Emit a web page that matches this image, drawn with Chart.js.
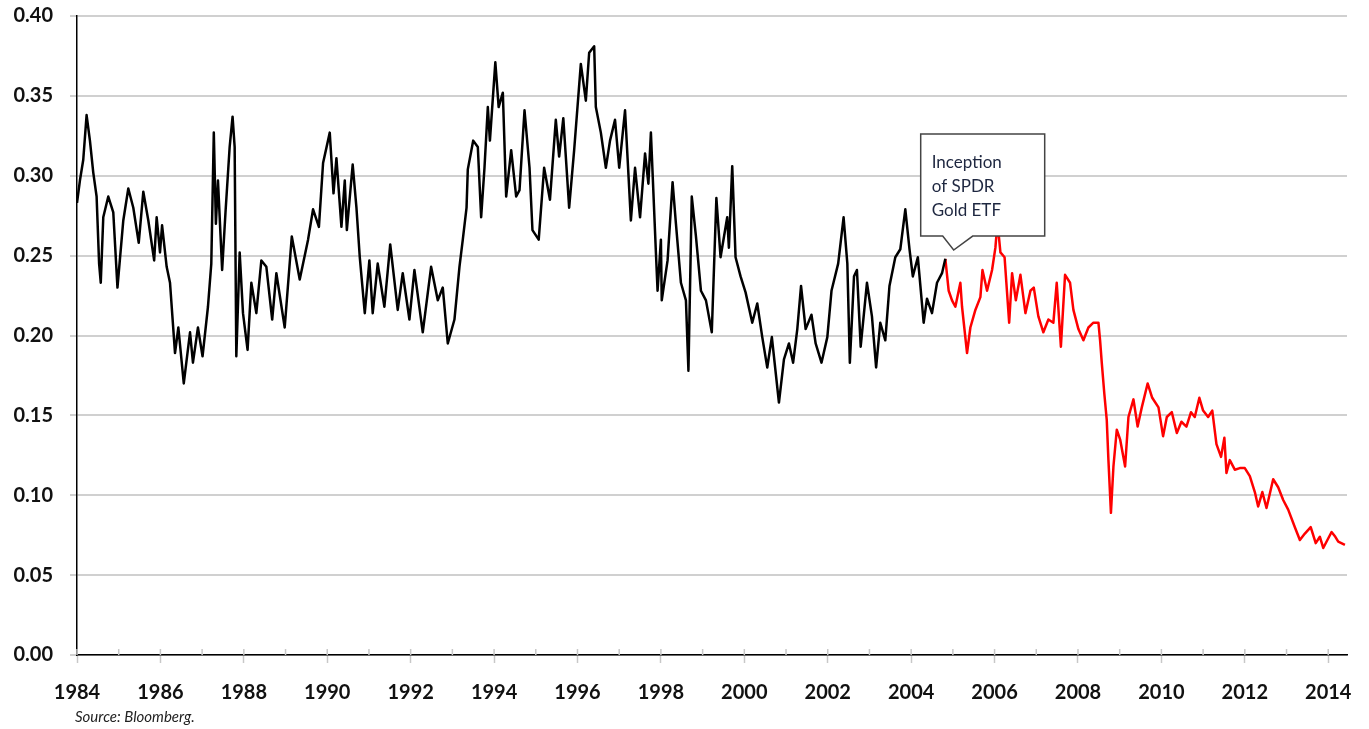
<!DOCTYPE html>
<html>
<head>
<meta charset="utf-8">
<script src="https://cdn.jsdelivr.net/npm/chart.js@4/dist/chart.umd.min.js"></script>
<style>
  html, body { margin: 0; padding: 0; background: #fff; }
  #wrap { position: relative; width: 1369px; height: 729px; }
  #source { position: absolute; left: 75px; top: 707px; font: italic 15px Lato, "Open Sans", sans-serif; color: #222; }
</style>
</head>
<body>
<div id="wrap">
  <canvas id="chart" width="1369" height="729"></canvas>
  <div id="source">Source: Bloomberg.</div>
</div>
<script>
// ratio, decimal years
const blackYears = [
  1984.00, 1984.07, 1984.15, 1984.23, 1984.31, 1984.39, 1984.47, 1984.53, 1984.57, 1984.63,
  1984.75, 1984.87, 1984.97, 1985.11, 1985.23, 1985.35, 1985.48, 1985.59, 1985.71, 1985.85,
  1985.91, 1985.99, 1986.04, 1986.15, 1986.23, 1986.35, 1986.43, 1986.56, 1986.71, 1986.78,
  1986.90, 1987.01, 1987.14, 1987.22, 1987.28, 1987.33, 1987.38, 1987.48, 1987.56, 1987.66,
  1987.73, 1987.78, 1987.82, 1987.90, 1987.98, 1988.09, 1988.18, 1988.30, 1988.42, 1988.54,
  1988.68, 1988.78, 1988.98, 1989.15, 1989.34, 1989.54, 1989.66, 1989.80, 1989.90, 1990.06,
  1990.15, 1990.22, 1990.34, 1990.42, 1990.47, 1990.61, 1990.70, 1990.78, 1990.90, 1991.01,
  1991.09, 1991.21, 1991.37, 1991.51, 1991.69, 1991.81, 1991.97, 1992.09, 1992.29, 1992.49,
  1992.65, 1992.77, 1992.89, 1993.05, 1993.17, 1993.25, 1993.34, 1993.37, 1993.50, 1993.61,
  1993.69, 1993.77, 1993.85, 1993.90, 1994.03, 1994.11, 1994.21, 1994.29, 1994.41, 1994.53,
  1994.61, 1994.73, 1994.85, 1994.92, 1995.07, 1995.20, 1995.34, 1995.48, 1995.56, 1995.66,
  1995.80, 1995.92, 1996.08, 1996.20, 1996.28, 1996.40, 1996.44, 1996.56, 1996.68, 1996.78,
  1996.90, 1997.00, 1997.14, 1997.28, 1997.38, 1997.50, 1997.62, 1997.70, 1997.76, 1997.88,
  1997.92, 1998.00, 1998.02, 1998.16, 1998.28, 1998.36, 1998.48, 1998.60, 1998.66, 1998.74,
  1998.84, 1998.96, 1999.08, 1999.22, 1999.33, 1999.43, 1999.59, 1999.63, 1999.71, 1999.79,
  1999.91, 2000.03, 2000.19, 2000.31, 2000.43, 2000.55, 2000.66, 2000.83, 2000.95, 2001.07,
  2001.17, 2001.27, 2001.36, 2001.47, 2001.61, 2001.71, 2001.85, 2001.99, 2002.09, 2002.25,
  2002.38, 2002.47, 2002.53, 2002.63, 2002.70, 2002.79, 2002.94, 2003.06, 2003.16, 2003.26,
  2003.38, 2003.48, 2003.62, 2003.74, 2003.86, 2003.96, 2004.04, 2004.16, 2004.30, 2004.38,
  2004.50, 2004.62, 2004.74, 2004.82
];
const blackValues = [
  0.283, 0.297, 0.310, 0.338, 0.322, 0.302, 0.287, 0.245, 0.233, 0.274,
  0.287, 0.277, 0.230, 0.272, 0.292, 0.280, 0.258, 0.290, 0.272, 0.247,
  0.274, 0.252, 0.269, 0.243, 0.233, 0.189, 0.205, 0.170, 0.202, 0.183,
  0.205, 0.187, 0.218, 0.245, 0.327, 0.270, 0.297, 0.241, 0.277, 0.318,
  0.337, 0.318, 0.187, 0.252, 0.214, 0.191, 0.233, 0.214, 0.247, 0.243,
  0.210, 0.239, 0.205, 0.262, 0.235, 0.260, 0.279, 0.268, 0.308, 0.327,
  0.289, 0.311, 0.268, 0.297, 0.266, 0.307, 0.280, 0.249, 0.214, 0.247,
  0.214, 0.245, 0.218, 0.257, 0.216, 0.239, 0.210, 0.241, 0.202, 0.243,
  0.222, 0.230, 0.195, 0.210, 0.243, 0.260, 0.280, 0.304, 0.322, 0.318,
  0.274, 0.305, 0.343, 0.322, 0.371, 0.343, 0.352, 0.287, 0.316, 0.287,
  0.291, 0.341, 0.305, 0.266, 0.260, 0.305, 0.285, 0.335, 0.312, 0.336,
  0.280, 0.316, 0.370, 0.347, 0.377, 0.381, 0.343, 0.327, 0.305, 0.322,
  0.335, 0.305, 0.341, 0.272, 0.305, 0.274, 0.314, 0.295, 0.327, 0.252,
  0.228, 0.260, 0.222, 0.247, 0.296, 0.270, 0.233, 0.222, 0.178, 0.287,
  0.262, 0.228, 0.222, 0.202, 0.286, 0.249, 0.274, 0.255, 0.306, 0.249,
  0.237, 0.227, 0.208, 0.220, 0.199, 0.180, 0.199, 0.158, 0.185, 0.195,
  0.183, 0.204, 0.231, 0.204, 0.213, 0.195, 0.183, 0.199, 0.228, 0.245,
  0.274, 0.245, 0.183, 0.237, 0.241, 0.193, 0.233, 0.212, 0.180, 0.208,
  0.197, 0.231, 0.249, 0.254, 0.279, 0.254, 0.237, 0.249, 0.208, 0.223,
  0.214, 0.233, 0.239, 0.248
];
const redYears = [
  2004.82, 2004.90, 2004.98, 2005.06, 2005.18, 2005.22, 2005.34, 2005.42, 2005.54, 2005.66,
  2005.71, 2005.82, 2005.94, 2006.02, 2006.07, 2006.14, 2006.24, 2006.35, 2006.42, 2006.51,
  2006.62, 2006.74, 2006.86, 2006.94, 2007.05, 2007.17, 2007.29, 2007.41, 2007.49, 2007.59,
  2007.69, 2007.81, 2007.89, 2008.01, 2008.13, 2008.25, 2008.37, 2008.49, 2008.53, 2008.57,
  2008.63, 2008.69, 2008.73, 2008.79, 2008.85, 2008.93, 2009.01, 2009.13, 2009.21, 2009.33,
  2009.43, 2009.53, 2009.67, 2009.78, 2009.93, 2010.04, 2010.13, 2010.25, 2010.37, 2010.48,
  2010.60, 2010.71, 2010.80, 2010.91, 2011.00, 2011.12, 2011.22, 2011.32, 2011.43, 2011.51,
  2011.56, 2011.64, 2011.76, 2011.88, 2012.00, 2012.12, 2012.24, 2012.32, 2012.42, 2012.52,
  2012.68, 2012.80, 2012.92, 2013.04, 2013.20, 2013.32, 2013.44, 2013.58, 2013.70, 2013.80,
  2013.88, 2013.98, 2014.08, 2014.17, 2014.24, 2014.40
];
const redValues = [
  0.248, 0.228, 0.222, 0.218, 0.233, 0.218, 0.189, 0.205, 0.216, 0.224,
  0.241, 0.228, 0.241, 0.255, 0.271, 0.252, 0.249, 0.208, 0.239, 0.222,
  0.238, 0.214, 0.228, 0.230, 0.212, 0.202, 0.210, 0.208, 0.233, 0.193,
  0.238, 0.233, 0.216, 0.204, 0.197, 0.205, 0.208, 0.208, 0.197, 0.183,
  0.164, 0.147, 0.122, 0.089, 0.118, 0.141, 0.135, 0.118, 0.149, 0.160,
  0.143, 0.155, 0.170, 0.161, 0.155, 0.137, 0.149, 0.152, 0.139, 0.146,
  0.143, 0.152, 0.149, 0.161, 0.153, 0.149, 0.153, 0.132, 0.124, 0.136,
  0.114, 0.122, 0.116, 0.117, 0.117, 0.112, 0.102, 0.093, 0.102, 0.092,
  0.110, 0.105, 0.097, 0.091, 0.080, 0.072, 0.076, 0.080, 0.070, 0.074,
  0.067, 0.072, 0.077, 0.074, 0.071, 0.069
];
const yearTicks = [1984, 1985, 1986, 1987, 1988, 1989, 1990, 1991, 1992, 1993, 1994, 1995, 1996, 1997, 1998, 1999,
  2000, 2001, 2002, 2003, 2004, 2005, 2006, 2007, 2008, 2009, 2010, 2011, 2012, 2013, 2014];
const noteLines = ['Inception', 'of SPDR', 'Gold ETF'];
const noteAt = { x: 2005.02, y: 0.2535 };

const toPoints = (xs, ys) => xs.map((x, i) => ({ x, y: ys[i] }));
const tickFont = { family: 'Lato, "Open Sans", sans-serif', size: 20, weight: 'bold' };

// little ticks inside the plot at every year
const innerTicks = {
  id: 'innerTicks',
  afterDraw(chart) {
    const { ctx, chartArea, scales: { x } } = chart;
    ctx.save();
    ctx.strokeStyle = '#c8c8c8';
    ctx.lineWidth = 1.5;
    yearTicks.forEach(yr => {
      const px = x.getPixelForValue(yr);
      ctx.beginPath();
      ctx.moveTo(px, chartArea.bottom - 6);
      ctx.lineTo(px, chartArea.bottom);
      ctx.stroke();
    });
    ctx.restore();
  }
};

// callout box with pointer
const callout = {
  id: 'callout',
  afterDraw(chart) {
    const { ctx, scales: { x, y } } = chart;
    const tx = x.getPixelForValue(noteAt.x), ty = y.getPixelForValue(noteAt.y);
    const left = tx - 33, right = tx + 91, top = ty - 116, bottom = ty - 14;
    ctx.save();
    ctx.beginPath();
    ctx.moveTo(left, top);
    ctx.lineTo(right, top);
    ctx.lineTo(right, bottom);
    ctx.lineTo(tx + 19, bottom);
    ctx.lineTo(tx, ty);
    ctx.lineTo(tx - 11, bottom);
    ctx.lineTo(left, bottom);
    ctx.closePath();
    ctx.fillStyle = '#fff';
    ctx.fill();
    ctx.strokeStyle = '#444';
    ctx.lineWidth = 1.5;
    ctx.stroke();
    ctx.fillStyle = '#1e2740';
    ctx.font = '17px Lato, "Open Sans", sans-serif';
    ctx.textBaseline = 'alphabetic';
    noteLines.forEach((t, i) => ctx.fillText(t, left + 11, top + 34 + i * 24));
    ctx.restore();
  }
};

new Chart(document.getElementById('chart'), {
  type: 'line',
  data: {
    datasets: [
      { data: toPoints(blackYears, blackValues), borderColor: '#000', borderWidth: 2.5, pointRadius: 0, tension: 0, borderJoinStyle: 'round' },
      { data: toPoints(redYears, redValues), borderColor: '#ff0000', borderWidth: 2.5, pointRadius: 0, tension: 0, borderJoinStyle: 'round' }
    ]
  },
  options: {
    responsive: false,
    animation: false,
    layout: { padding: { top: 16, right: 22, left: 0, bottom: 0 } },
    plugins: { legend: { display: false }, tooltip: { enabled: false } },
    scales: {
      x: {
        type: 'linear',
        min: 1984,
        max: 2014.45,
        afterBuildTicks: s => { s.ticks = yearTicks.map(v => ({ value: v })); },
        afterFit: s => { s.height = 74; s.paddingLeft = 0; s.paddingRight = 0; },
        border: { color: '#000', width: 1.5 },
        grid: {
          drawOnChartArea: false,
          tickLength: 8,
          tickWidth: 1.5,
          tickColor: c => (c.tick && c.tick.value % 2 === 0) ? '#c8c8c8' : 'rgba(0,0,0,0)'
        },
        ticks: {
          autoSkip: false,
          maxRotation: 0,
          padding: 18,
          color: '#111',
          font: tickFont,
          callback: v => v % 2 === 0 ? String(v) : ''
        }
      },
      y: {
        min: 0,
        max: 0.4,
        afterFit: s => { s.width = 77; s.paddingTop = 0; s.paddingBottom = 0; },
        border: { color: '#000', width: 1.5 },
        grid: { color: '#d0d0d0', lineWidth: 2, tickLength: 7, tickColor: '#d0d0d0' },
        ticks: {
          stepSize: 0.05,
          padding: 17,
          color: '#111',
          font: tickFont,
          callback: v => v.toFixed(2)
        }
      }
    }
  },
  plugins: [innerTicks, callout]
});
</script>
</body>
</html>
